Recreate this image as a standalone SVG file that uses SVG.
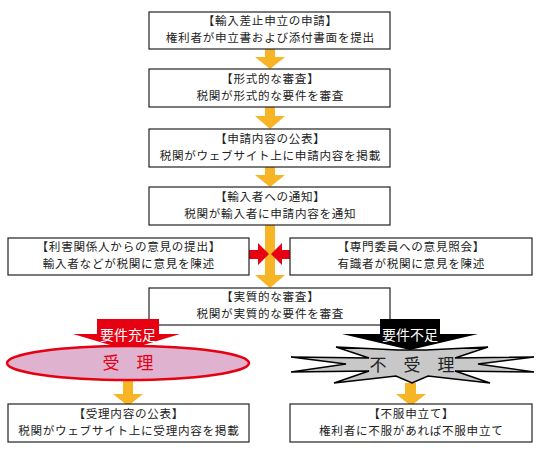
<svg xmlns="http://www.w3.org/2000/svg" width="539" height="454" viewBox="0 0 539 454">
<style>
.box{fill:#fff;stroke:#222;stroke-width:1.2}
.t{font-family:"Noto Sans CJK JP","Noto Sans",sans-serif;font-size:11.6px;letter-spacing:0.7px;fill:#222;text-anchor:middle}
.or{fill:#F7B526}
.rd{fill:#E60012}
.wt{font-family:"Noto Sans CJK JP","Noto Sans",sans-serif;font-size:14px;fill:#fff;text-anchor:middle}
.big{font-family:"Noto Sans CJK JP","Noto Sans",sans-serif;font-size:17px;text-anchor:middle}
</style>
<rect width="539" height="454" fill="#fff"/>
<g id="connectors">
<path class="or" d="M265 49H275V57H285L270 69L255 57H265Z"/>
<path class="or" d="M265 107H275V116H285L270 129L255 116H265Z"/>
<path class="or" d="M265 167H275V175H285L270 187L255 175H265Z"/>
<path class="or" d="M265 225H275V275H285L270 288L255 275H265Z"/>
<path class="rd" d="M249 250H258V243L269 254L258 265V259H249Z"/>
<path class="rd" d="M290 250H282V243L271 254L282 265V259H290Z"/>
<path class="or" d="M123 380H133V394H143L128 406L113 394H123Z"/>
<path class="or" d="M405 383H416V394H426L411 406L396 394H405Z"/>
</g>
<g id="n1"><rect class="box" x="149" y="12" width="241" height="37"/>
<text class="t" x="270.3" y="25">【輸入差止申立の申請】</text>
<text class="t" x="270.3" y="42">権利者が申立書および添付書面を提出</text></g>
<g id="n2"><rect class="box" x="149" y="69" width="241" height="38"/>
<text class="t" x="270.3" y="82.5">【形式的な審査】</text>
<text class="t" x="270.3" y="99.5">税関が形式的な要件を審査</text></g>
<g id="n3"><rect class="box" x="149" y="129" width="241" height="38"/>
<text class="t" x="270.3" y="142.5">【申請内容の公表】</text>
<text class="t" x="270.3" y="159.5">税関がウェブサイト上に申請内容を掲載</text></g>
<g id="n4"><rect class="box" x="149" y="187" width="241" height="38"/>
<text class="t" x="270.3" y="200.5">【輸入者への通知】</text>
<text class="t" x="270.3" y="217.5">税関が輸入者に申請内容を通知</text></g>
<g id="n5"><rect class="box" x="8" y="238" width="241" height="37"/>
<text class="t" x="128.8" y="251">【利害関係人からの意見の提出】</text>
<text class="t" x="128.8" y="268">輸入者などが税関に意見を陳述</text></g>
<g id="n6"><rect class="box" x="290" y="238" width="242" height="37"/>
<text class="t" x="411.3" y="251">【専門委員への意見照会】</text>
<text class="t" x="411.3" y="268">有識者が税関に意見を陳述</text></g>
<g id="n7"><rect class="box" x="149" y="288" width="241" height="37"/>
<text class="t" x="270.3" y="301">【実質的な審査】</text>
<text class="t" x="270.3" y="318">税関が実質的な要件を審査</text></g>
<g id="n8"><path class="rd" d="M97 319H159V334H180L127 350L73 334H97Z"/>
<text class="wt" x="128" y="339.5">要件充足</text></g>
<g id="n9"><path fill="#000" d="M380 319H440V334H478L410 350L342 334H380Z"/>
<text class="wt" x="410" y="339.5">要件不足</text></g>
<g id="n10"><ellipse cx="128" cy="363" rx="121" ry="17" fill="#DFB3D0" stroke="#E60012" stroke-width="2.5"/>
<text class="big" x="128" y="369" fill="#E60012">受　理</text></g>
<g id="n11"><polygon points="398,350 426,350 488,347 455,358 534,357 478,364 534,372 455,371 490,383 428,376 412,383 396,376 334,383 369,371 291,372 346,364 291,357 369,358 336,347" fill="#C8C8C8" stroke="#000" stroke-width="1.5" stroke-linejoin="miter"/>
<text class="big" x="412" y="371" fill="#222">不　受　理</text></g>
<g id="n12"><rect class="box" x="8" y="404" width="241" height="38"/>
<text class="t" x="128.8" y="417.5">【受理内容の公表】</text>
<text class="t" x="128.8" y="434.5">税関がウェブサイト上に受理内容を掲載</text></g>
<g id="n13"><rect class="box" x="290" y="404" width="242" height="38"/>
<text class="t" x="411.3" y="417.5">【不服申立て】</text>
<text class="t" x="411.3" y="434.5">権利者に不服があれば不服申立て</text></g>
</svg>
